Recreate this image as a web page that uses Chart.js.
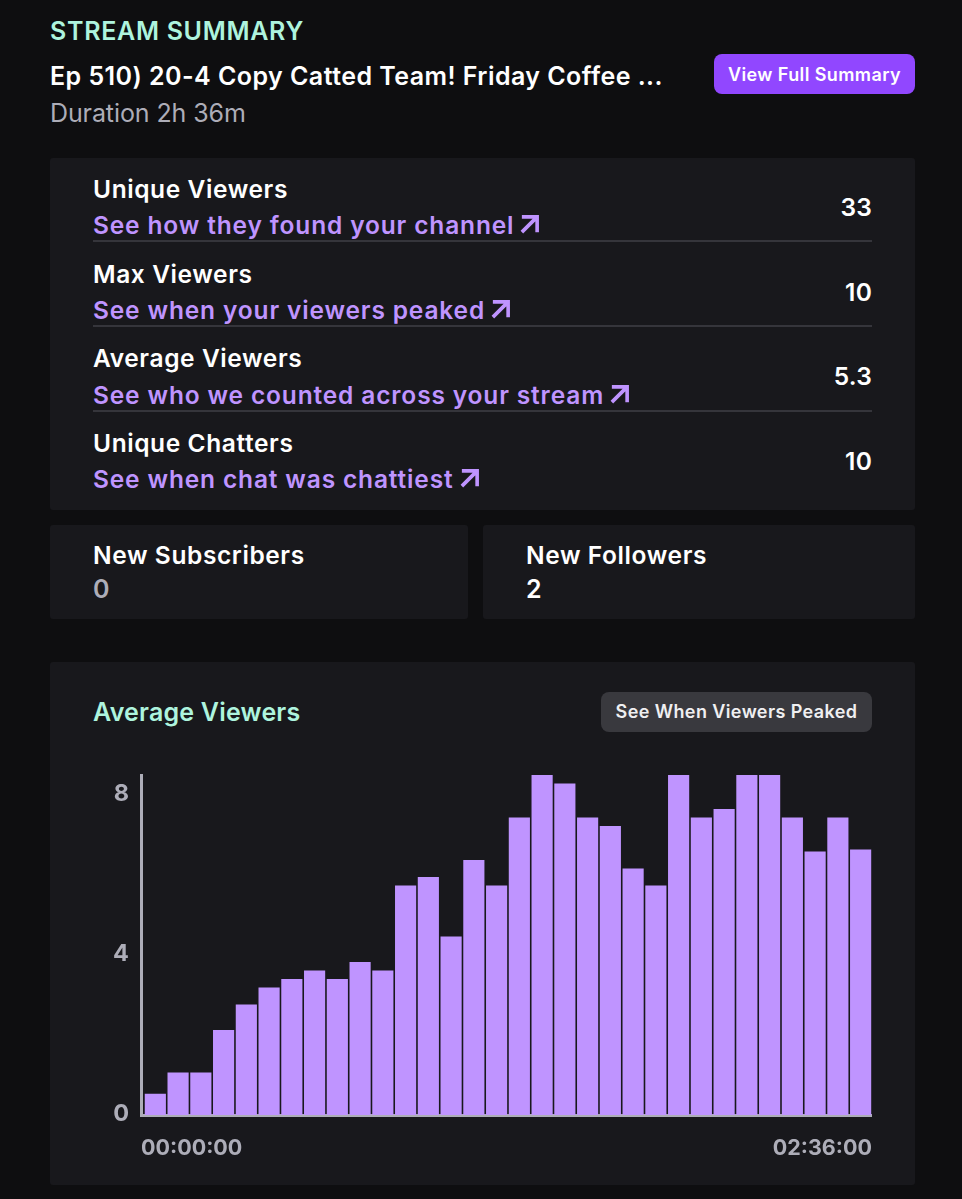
<!DOCTYPE html>
<html>
<head>
<meta charset="utf-8">
<title>Stream Summary</title>
<script src="https://cdn.jsdelivr.net/npm/chart.js@4/dist/chart.umd.min.js"></script>
<style>
html,body{margin:0;padding:0;background:#0e0e10;}
body{width:962px;height:1199px;position:relative;overflow:hidden;font-family:Inter,sans-serif;-webkit-font-smoothing:antialiased;}
.t{position:absolute;white-space:nowrap;line-height:1;}
.box{position:absolute;background:#18181c;border-radius:3px;}
.rule{position:absolute;left:93px;width:779px;height:2px;background:#35353b;}
.head{font-size:24.5px;font-weight:600;color:#fff;letter-spacing:.6px;}
.link{font-size:24.5px;font-weight:600;color:#bf94ff;letter-spacing:.85px;}
.link svg{width:21px;height:21px;vertical-align:-1px;margin-left:5px;}
.val{font-size:24.5px;font-weight:600;color:#fff;right:90px;letter-spacing:.2px;}
.teal{color:#aef4de;font-weight:600;font-size:25px;}
#btn1{position:absolute;left:714px;top:54px;width:201px;height:40px;background:#9147ff;border-radius:8px;color:#fff;font-size:18px;font-weight:600;text-align:center;line-height:41px;letter-spacing:.4px;}
#btn2{position:absolute;left:601px;top:692px;width:271px;height:40px;background:#39393e;border-radius:8px;color:#efeff1;font-size:18px;font-weight:600;text-align:center;line-height:39px;letter-spacing:.4px;}
#chartWrap{position:absolute;left:90px;top:765px;width:782px;height:400px;}
</style>
</head>
<body>

<div class="t teal" style="left:50px;top:19px;letter-spacing:.7px;">STREAM SUMMARY</div>
<div class="t" style="left:50px;top:64px;font-size:25px;font-weight:600;color:#fff;letter-spacing:.45px;">Ep 510) 20-4 Copy Catted Team! Friday Coffee ...</div>
<div class="t" style="left:50px;top:101px;font-size:25px;color:#adadb8;letter-spacing:-.1px;">Duration 2h 36m</div>
<div id="btn1">View Full Summary</div>

<div class="box" style="left:50px;top:158px;width:865px;height:352px;"></div>

<div class="t head" style="left:93px;top:177px;">Unique Viewers</div>
<div class="t link" style="left:93px;top:213px;">See how they found your channel<svg viewBox="0 0 22 22"><path d="M3 3H19V19M19 3L3 19" fill="none" stroke="#bf94ff" stroke-width="3.8"/></svg></div>
<div class="t val" style="top:195px;">33</div>
<div class="rule" style="top:240px;"></div>

<div class="t head" style="left:93px;top:262px;">Max Viewers</div>
<div class="t link" style="left:93px;top:298px;">See when your viewers peaked<svg viewBox="0 0 22 22"><path d="M3 3H19V19M19 3L3 19" fill="none" stroke="#bf94ff" stroke-width="3.8"/></svg></div>
<div class="t val" style="top:280px;">10</div>
<div class="rule" style="top:325px;"></div>

<div class="t head" style="left:93px;top:346px;">Average Viewers</div>
<div class="t link" style="left:93px;top:383px;">See who we counted across your stream<svg viewBox="0 0 22 22"><path d="M3 3H19V19M19 3L3 19" fill="none" stroke="#bf94ff" stroke-width="3.8"/></svg></div>
<div class="t val" style="top:364px;">5.3</div>
<div class="rule" style="top:410px;"></div>

<div class="t head" style="left:93px;top:431px;">Unique Chatters</div>
<div class="t link" style="left:93px;top:467px;">See when chat was chattiest<svg viewBox="0 0 22 22"><path d="M3 3H19V19M19 3L3 19" fill="none" stroke="#bf94ff" stroke-width="3.8"/></svg></div>
<div class="t val" style="top:449px;">10</div>

<div class="box" style="left:50px;top:525px;width:418px;height:94px;"></div>
<div class="t head" style="left:93px;top:543px;">New Subscribers</div>
<div class="t" style="left:93px;top:577px;font-size:25px;font-weight:600;color:#adadb8;">0</div>

<div class="box" style="left:483px;top:525px;width:432px;height:94px;"></div>
<div class="t head" style="left:526px;top:543px;">New Followers</div>
<div class="t" style="left:526px;top:577px;font-size:25px;font-weight:600;color:#fff;">2</div>

<div class="box" style="left:50px;top:662px;width:865px;height:523px;"></div>
<div class="t teal" style="left:93px;top:700px;letter-spacing:.2px;">Average Viewers</div>
<div id="btn2">See When Viewers Peaked</div>

<div id="chartWrap"><canvas id="viewersChart"></canvas></div>

<script>
// ======================================
// Chart data
// ======================================

const bins = [
    1, 2, 3, 4, 5, 6, 7, 8,
    9, 10, 11, 12, 13, 14, 15, 16,
    17, 18, 19, 20, 21, 22, 23, 24,
    25, 26, 27, 28, 29, 30, 31, 32
];

const averageViewers = [
    0.5, 1, 1, 2, 2.6, 3, 3.2, 3.4,
    3.2, 3.6, 3.4, 5.4, 5.6, 4.2, 6, 5.4,
    7, 8, 7.8, 7, 6.8, 5.8, 5.4, 8,
    7, 7.2, 8, 8, 7, 6.2, 7, 6.25
];

const viewerTicks = [0, 4, 8];

const timeTicks = [0, 156];
const timeLabels = ["00:00:00", "02:36:00"];

// ======================================
// Chart
// ======================================

const axisColor = "#adadb8";

new Chart(document.getElementById("viewersChart"), {

    type: "bar",

    data: {
        labels: bins,
        datasets: [{
            label: "Average Viewers",
            data: averageViewers,
            backgroundColor: "#bf94ff",
            barPercentage: 0.93,
            categoryPercentage: 1,
            xAxisID: "x",
            yAxisID: "y"
        }]
    },

    options: {
        responsive: true,
        maintainAspectRatio: false,
        animation: false,
        layout: { padding: { top: 10, left: 0, right: 0, bottom: 0 } },
        plugins: {
            legend: { display: false },
            tooltip: { enabled: false }
        },
        scales: {

            // bars sit on these two, hidden
            x: {
                type: "linear",
                display: false,
                offset: false,
                min: 0.37,
                max: 32.5
            },
            y: {
                display: false,
                min: 0,
                max: 8
            },

            // visible axes, labels sit a little inside the bar scale
            time: {
                type: "linear",
                position: "bottom",
                offset: false,
                min: 0,
                max: 156,
                grid: { display: false, drawTicks: false },
                border: { color: axisColor, width: 3 },
                afterBuildTicks: scale => {
                    scale.ticks = timeTicks.map(v => ({ value: v }));
                },
                afterFit: scale => {
                    scale.height = 50;
                    scale.paddingLeft = 0;
                    scale.paddingRight = 0;
                },
                ticks: {
                    align: "inner",
                    autoSkip: false,
                    maxRotation: 0,
                    padding: 21,
                    color: axisColor,
                    font: { family: "Inter", size: 21.5, weight: "700" },
                    callback: (value, i) => timeLabels[i]
                }
            },
            viewers: {
                type: "linear",
                position: "left",
                min: -0.025,
                max: 8.475,
                grid: { display: false, drawTicks: false },
                border: { color: axisColor, width: 3 },
                afterBuildTicks: scale => {
                    scale.ticks = viewerTicks.map(v => ({ value: v }));
                },
                afterFit: scale => {
                    scale.width = 51;
                    scale.paddingTop = 0;
                    scale.paddingBottom = 0;
                },
                ticks: {
                    padding: 12,
                    color: axisColor,
                    font: { family: "Inter", size: 23.5, weight: "700" }
                }
            }
        }
    }

});
</script>
</body>
</html>
